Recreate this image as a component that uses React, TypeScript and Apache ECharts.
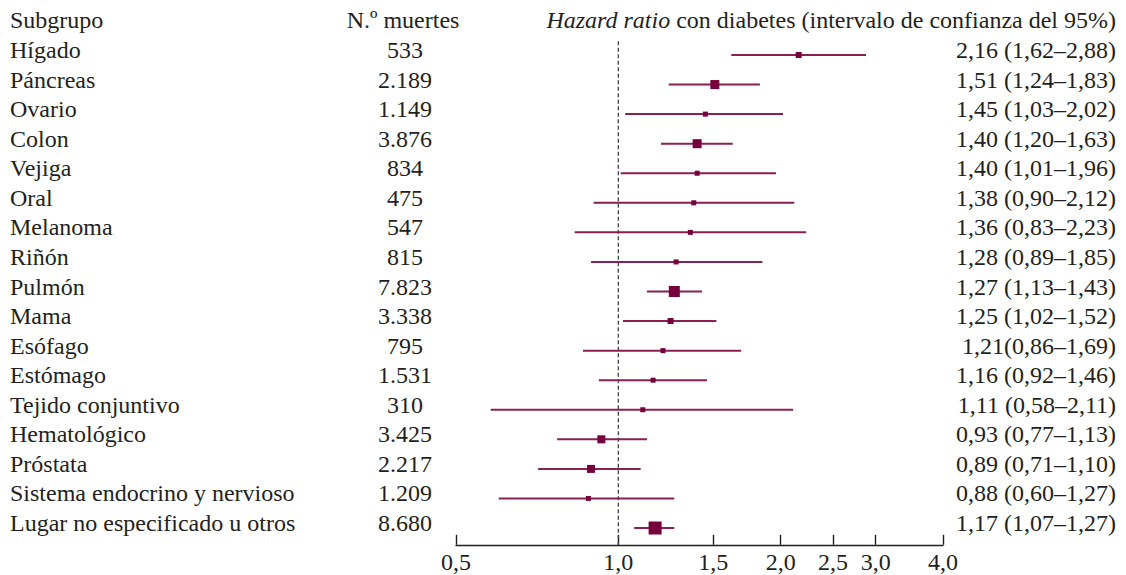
import React, { useEffect, useRef } from "react";
import * as echarts from "echarts";

const subgroups = [
  "Hígado", "Páncreas", "Ovario", "Colon", "Vejiga", "Oral", "Melanoma", "Riñón",
  "Pulmón", "Mama", "Esófago", "Estómago", "Tejido conjuntivo", "Hematológico",
  "Próstata", "Sistema endocrino y nervioso", "Lugar no especificado u otros",
];
const deaths = [533, 2189, 1149, 3876, 834, 475, 547, 815, 7823, 3338, 795, 1531, 310, 3425, 2217, 1209, 8680];
const hazardRatio = [2.16, 1.51, 1.45, 1.40, 1.40, 1.38, 1.36, 1.28, 1.27, 1.25, 1.21, 1.16, 1.11, 0.93, 0.89, 0.88, 1.17];
const ciLower = [1.62, 1.24, 1.03, 1.20, 1.01, 0.90, 0.83, 0.89, 1.13, 1.02, 0.86, 0.92, 0.58, 0.77, 0.71, 0.60, 1.07];
const ciUpper = [2.88, 1.83, 2.02, 1.63, 1.96, 2.12, 2.23, 1.85, 1.43, 1.52, 1.69, 1.46, 2.11, 1.13, 1.10, 1.27, 1.27];
const ciLabels = [
  "2,16 (1,62–2,88)", "1,51 (1,24–1,83)", "1,45 (1,03–2,02)", "1,40 (1,20–1,63)",
  "1,40 (1,01–1,96)", "1,38 (0,90–2,12)", "1,36 (0,83–2,23)", "1,28 (0,89–1,85)",
  "1,27 (1,13–1,43)", "1,25 (1,02–1,52)", "1,21(0,86–1,69)", "1,16 (0,92–1,46)",
  "1,11 (0,58–2,11)", "0,93 (0,77–1,13)", "0,89 (0,71–1,10)", "0,88 (0,60–1,27)",
  "1,17 (1,07–1,27)",
];
const xTicks = [0.5, 1.0, 1.5, 2.0, 2.5, 3.0, 4.0];

// marker (box) sizes in px (study weight)
const boxSizes = [6, 9, 5, 9, 5, 5, 5, 5, 11, 6, 5, 5, 5, 8, 8, 5, 13];

const FONT = "'Liberation Serif', 'Times New Roman', serif";
const FS = 24;
const TEXT = "#231f20";
const BOX = "#76003c";
const LINE = "#8a1f55";
const MARK_DY = 5; // markers sit slightly below the text's middle

const fmtThousands = (n: number) => String(n).replace(/\B(?=(\d{3})+(?!\d))/g, ".");

export default function App() {
  const ref = useRef<HTMLDivElement>(null);
  useEffect(() => {
    if (!ref.current) return;
    const chart = echarts.init(ref.current, null, { renderer: "svg" });
    const gridLeft = 456, gridRight = 183, gridTop = 35.2, gridBottom = 37.2;
    const catAxisBase = {
      type: "category" as const,
      data: subgroups.map((_, i) => i),
      inverse: true,
      axisLine: { show: false },
      axisTick: { show: false },
      splitLine: { show: false },
    };
    const labelBase = { interval: 0, fontFamily: FONT, fontSize: FS, color: TEXT, verticalAlign: "middle" as const };
    chart.setOption({
      animation: false,
      grid: { left: gridLeft, right: gridRight, top: gridTop, bottom: gridBottom },
      xAxis: {
        type: "log",
        logBase: 2,
        min: 0.5,
        max: 4,
        offset: 7,
        axisLine: { show: true, lineStyle: { color: TEXT, width: 1.4 } },
        axisTick: { show: true, inside: true, length: 10, customValues: xTicks, lineStyle: { color: TEXT, width: 1.4 } },
        axisLabel: {
          customValues: xTicks,
          formatter: (v: number) => v.toFixed(1).replace(".", ","),
          fontFamily: FONT, fontSize: FS, color: TEXT, margin: 5,
        },
        splitLine: { show: false },
        minorTick: { show: false },
      },
      yAxis: [
        {
          ...catAxisBase,
          position: "left",
          axisLabel: { ...labelBase, align: "left", margin: gridLeft - 10, formatter: (v: string) => subgroups[Number(v)] },
        },
        {
          ...catAxisBase,
          position: "left",
          axisLabel: { ...labelBase, align: "center", margin: gridLeft - 405, formatter: (v: string) => fmtThousands(deaths[Number(v)]) },
        },
        {
          ...catAxisBase,
          position: "right",
          axisLabel: { ...labelBase, align: "right", margin: 1116 - (1126 - gridRight), formatter: (v: string) => ciLabels[Number(v)] },
        },
      ],
      series: [
        {
          type: "custom",
          yAxisIndex: 0,
          clip: false,
          data: [[1, 0]],
          encode: { x: 0, y: 1 },
          renderItem: (params: any, api: any) => {
            const x = api.coord([1, 0])[0];
            const cs = params.coordSys;
            return {
              type: "line",
              shape: { x1: x, y1: cs.y + 6, x2: x, y2: cs.y + cs.height + 7 },
              style: { stroke: "#444", lineWidth: 1.3, lineDash: [4, 2.5] },
            };
          },
        },
        {
          type: "custom",
          yAxisIndex: 0,
          clip: false,
          data: subgroups.map((_, i) => [hazardRatio[i], i, ciLower[i], ciUpper[i]]),
          encode: { x: [0, 2, 3], y: 1 },
          renderItem: (params: any, api: any) => {
            const yi = api.value(1);
            const p = api.coord([api.value(0), yi]);
            const l = api.coord([api.value(2), yi]);
            const h = api.coord([api.value(3), yi]);
            const y = p[1] + MARK_DY;
            const s = boxSizes[params.dataIndex];
            return {
              type: "group",
              children: [
                { type: "line", shape: { x1: l[0], y1: y, x2: h[0], y2: y }, style: { stroke: LINE, lineWidth: 2 } },
                { type: "rect", shape: { x: p[0] - s / 2, y: y - s / 2, width: s, height: s }, style: { fill: BOX } },
              ],
            };
          },
        },
      ],
      graphic: [
        { type: "text", x: 10, y: 20, style: { text: "Subgrupo", font: `${FS}px ${FONT}`, fill: TEXT, align: "left", verticalAlign: "middle" } },
        { type: "text", x: 403, y: 20, style: { text: "N.º muertes", font: `${FS}px ${FONT}`, fill: TEXT, align: "center", verticalAlign: "middle" } },
        {
          type: "text", x: 1116, y: 20,
          style: {
            text: "{i|Hazard ratio} con diabetes (intervalo de confianza del 95%)",
            font: `${FS}px ${FONT}`, fill: TEXT, align: "right", verticalAlign: "middle",
            rich: { i: { fontStyle: "italic", fontFamily: FONT, fontSize: FS, fill: TEXT } },
          },
        },
      ],
    });
    return () => chart.dispose();
  }, []);
  return <div ref={ref} style={{ position: "fixed", left: 0, top: 0, width: 1126, height: 575, background: "#fff" }} />;
}
